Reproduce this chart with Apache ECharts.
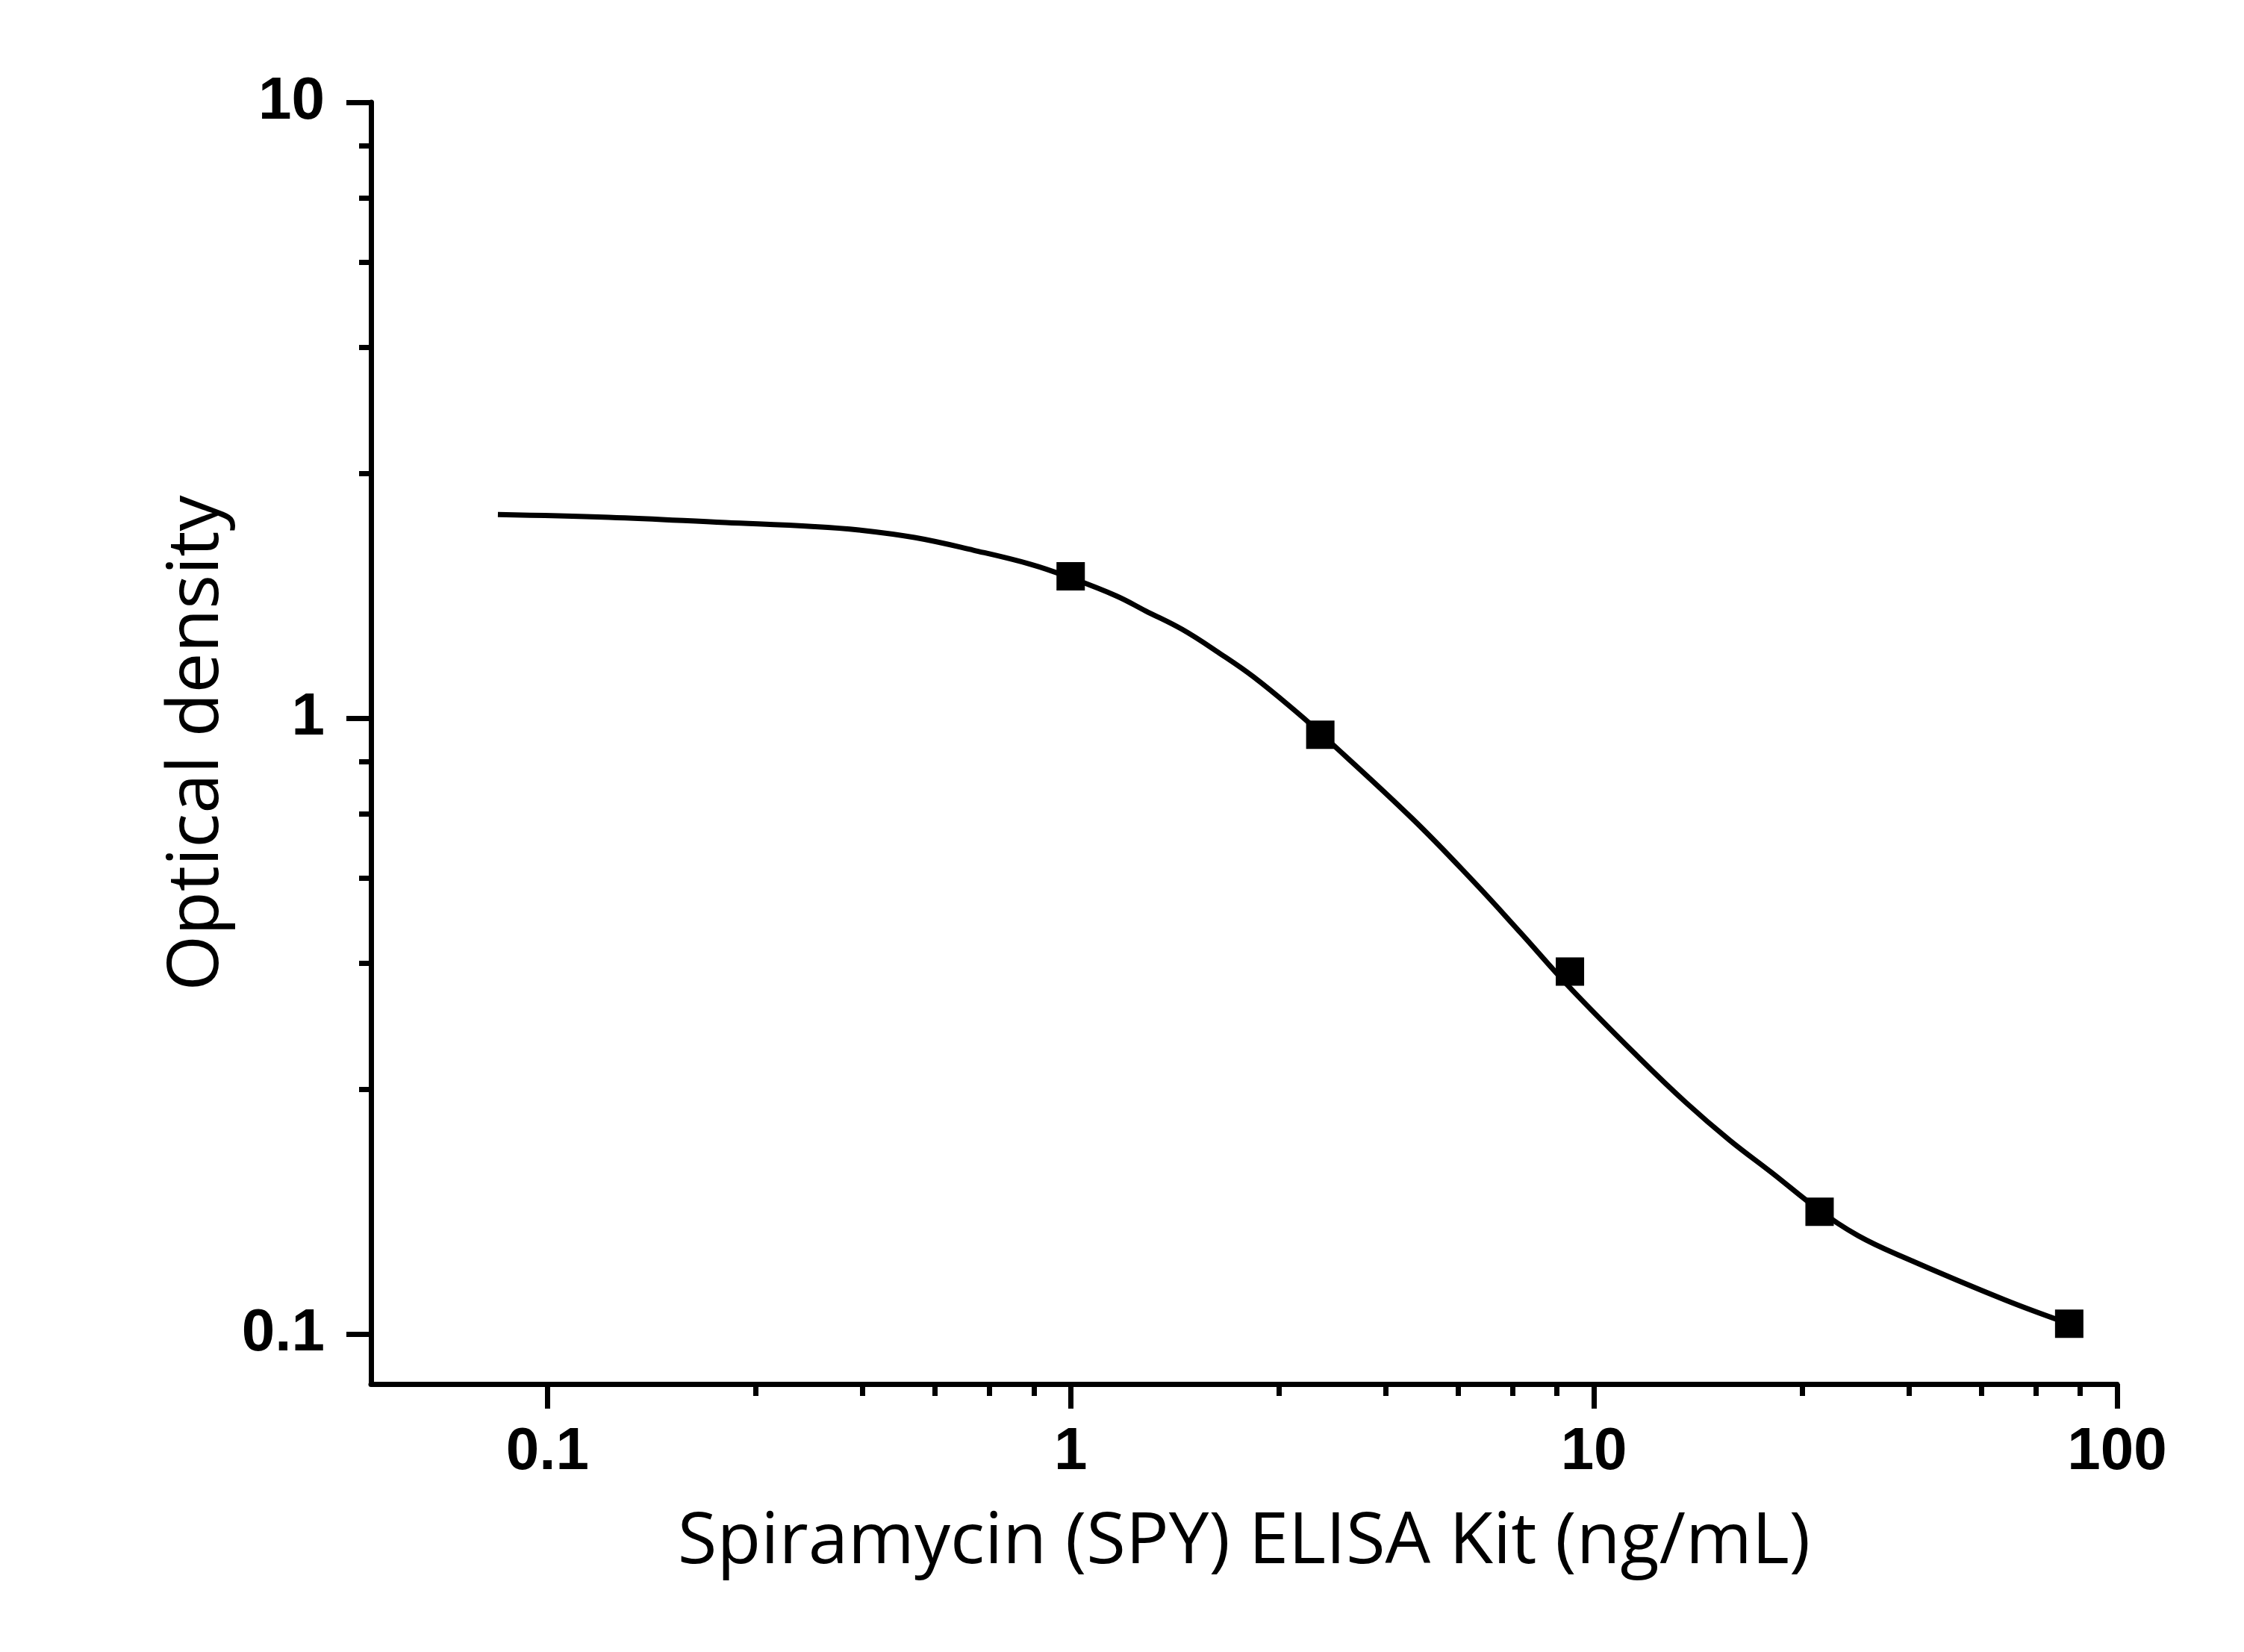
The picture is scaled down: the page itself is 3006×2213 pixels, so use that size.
<!DOCTYPE html>
<html>
	<head>
		<meta charset="UTF-8">
		<title>Spiramycin (SPY) ELISA Kit</title>
		<script src="https://cdn.jsdelivr.net/npm/echarts@6/dist/echarts.min.js" type="text/javascript"></script>
		<style type="text/css">
			html, body { margin: 0; padding: 0; background: #fff; }
			#chart1 { width: 3006px; height: 2213px; }
		</style>
	</head>
	<body>
		<div id="chart1"></div>
	</body>
</html>
<script type="text/javascript">
	// standard points (concentration ng/mL, OD)
	var pointX = [1, 3, 9, 27, 81];
	var pointY = [1.70, 0.94, 0.388, 0.158, 0.104];

	// fitted curve
	var curveX = [0.0804, 0.131, 0.219, 0.324, 0.394, 0.503, 0.652, 0.840, 1.0, 1.222, 1.390, 1.633, 1.925, 2.239, 2.737, 3.0, 4.49, 5.89, 7.25, 8.98, 12.2, 15.01, 18.16, 21.91, 26.96, 32.0, 39.1, 61.0, 80.9];
	var curveY = [2.142, 2.119, 2.078, 2.047, 2.021, 1.965, 1.874, 1.777, 1.690, 1.580, 1.494, 1.394, 1.275, 1.166, 1.014, 0.946, 0.688, 0.543, 0.448, 0.366, 0.281, 0.2375, 0.2066, 0.1827, 0.159, 0.1445, 0.1333, 0.1137, 0.104];

	// ticks
	var xMajor = [0.1, 1, 10, 100];
	var xMinor = [0.25, 0.4, 0.55, 0.7, 0.85, 2.5, 4, 5.5, 7, 8.5, 25, 40, 55, 70, 85];
	var yMajor = [0.1, 1, 10];
	var yMinor = [0.25, 0.4, 0.55, 0.7, 0.85, 2.5, 4, 5.5, 7, 8.5];

	var chart1 = echarts.init(document.getElementById("chart1"));

	var black = '#000';
	var tickFont = {
		fontSize: 80,
		fontWeight: 'bold',
		fontFamily: 'Liberation Sans',
		color: black
	};
	var nameFont = {
		fontSize: 96,
		fontFamily: 'Open Sans',
		color: black
	};
	function fmt(v) {
		return String(+Number(v).toPrecision(3));
	}

	var option = {
		backgroundColor: '#fff',
		animation: false,
		grid: {
			left: 497,
			right: 170,
			top: 137,
			bottom: 359
		},
		xAxis: [{
			type: 'log',
			logBase: 10,
			min: 0.046,
			max: 100,
			name: 'Spiramycin (SPY) ELISA Kit (ng/mL)',
			nameLocation: 'middle',
			nameGap: 165,
			nameTextStyle: nameFont,
			axisLine: { lineStyle: { color: black, width: 7 } },
			axisTick: { customValues: xMajor, length: 33, lineStyle: { color: black, width: 7 } },
			axisLabel: Object.assign({ customValues: xMajor, margin: 52, formatter: fmt }, tickFont),
			splitLine: { show: false },
			minorTick: { show: false }
		}, {
			// minor ticks only
			type: 'log',
			logBase: 10,
			min: 0.046,
			max: 100,
			position: 'bottom',
			axisLine: { show: false },
			axisTick: { customValues: xMinor, length: 16, lineStyle: { color: black, width: 7 } },
			axisLabel: { show: false },
			splitLine: { show: false }
		}],
		yAxis: [{
			type: 'log',
			logBase: 10,
			min: 0.083,
			max: 10,
			name: 'Optical density',
			nameLocation: 'middle',
			nameGap: 181,
			nameTextStyle: nameFont,
			axisLine: { lineStyle: { color: black, width: 7 } },
			axisTick: { customValues: yMajor, length: 33, lineStyle: { color: black, width: 7 } },
			axisLabel: Object.assign({ customValues: yMajor, margin: 62, formatter: fmt }, tickFont),
			splitLine: { show: false },
			minorTick: { show: false }
		}, {
			type: 'log',
			logBase: 10,
			min: 0.083,
			max: 10,
			position: 'left',
			axisLine: { show: false },
			axisTick: { customValues: yMinor, length: 16, lineStyle: { color: black, width: 7 } },
			axisLabel: { show: false },
			splitLine: { show: false }
		}],
		series: [{
			type: 'line',
			xAxisIndex: 0,
			yAxisIndex: 0,
			data: curveX.map(function(x, i) { return [x, curveY[i]]; }),
			showSymbol: false,
			smooth: 0.4,
			lineStyle: { color: black, width: 7 },
			z: 2
		}, {
			type: 'scatter',
			xAxisIndex: 0,
			yAxisIndex: 0,
			data: pointX.map(function(x, i) { return [x, pointY[i]]; }),
			symbol: 'rect',
			symbolSize: 38,
			itemStyle: { color: black, opacity: 1 },
			z: 3
		}]
	};

	chart1.setOption(option);
</script>
